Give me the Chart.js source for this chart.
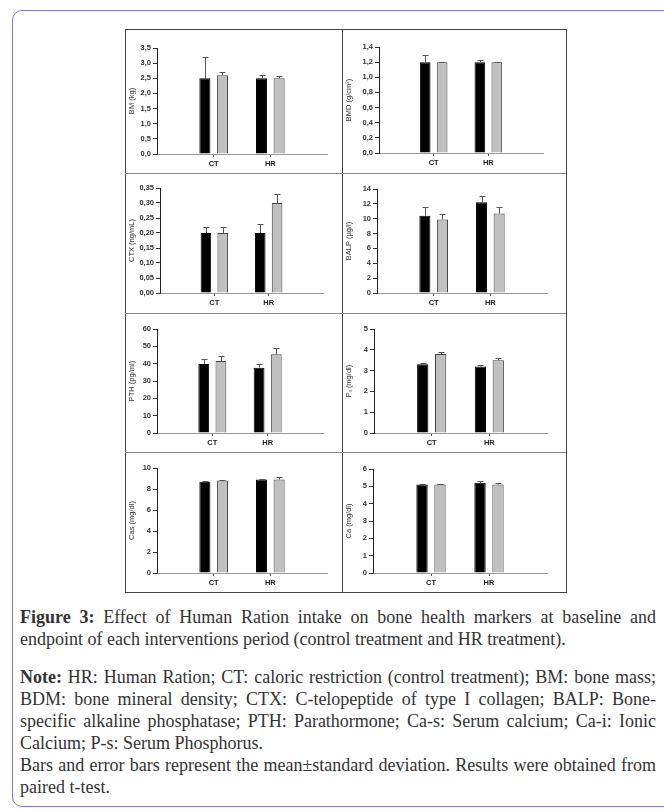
<!DOCTYPE html>
<html>
<head>
<meta charset="utf-8">
<script src="https://cdn.jsdelivr.net/npm/chart.js@4.4.1/dist/chart.umd.min.js"></script>
<style>
  body { margin: 0; width: 664px; height: 811px; background: #fff; position: relative; overflow: hidden; }
  .frame { position: absolute; left: 12px; top: 10px; width: 700px; height: 797px; border: 1.5px solid #8080bb; border-radius: 10px; box-sizing: border-box; }
  .box { position: absolute; left: 125px; top: 29px; width: 442px; height: 564px; border: 1px solid #444; box-sizing: border-box; pointer-events: none; }
  .vline { position: absolute; left: 342px; top: 29px; width: 1px; height: 563px; background: #444; }
  .hline { position: absolute; left: 125px; width: 441px; height: 1px; background: #888; }
  canvas { position: absolute; }
  .caption { position: absolute; left: 20px; top: 606px; width: 636px; font-family: "Liberation Serif", "Times New Roman", serif; font-size: 18px; line-height: 22px; color: #333; text-align: justify; }
  .caption p { margin: 0; }
  .caption p.note { margin-top: 16px; }
</style>
</head>
<body>
<div class="frame"></div>

<canvas id="bm"></canvas>
<canvas id="bmd"></canvas>
<canvas id="ctx"></canvas>
<canvas id="balp"></canvas>
<canvas id="pth"></canvas>
<canvas id="ps"></canvas>
<canvas id="cas"></canvas>
<canvas id="ca"></canvas>

<div class="box"></div>
<div class="vline"></div>
<div class="hline" style="top:173px"></div>
<div class="hline" style="top:313px"></div>
<div class="hline" style="top:452px"></div>

<div class="caption">
  <p><b>Figure 3:</b> Effect of Human Ration intake on bone health markers at baseline and endpoint of each interventions period (control treatment and HR treatment).</p>
  <p class="note"><b>Note:</b> HR: Human Ration; CT: caloric restriction (control treatment); BM: bone mass; BDM: bone mineral density; CTX: C-telopeptide of type I collagen; BALP: Bone-specific alkaline phosphatase; PTH: Parathormone; Ca-s: Serum calcium; Ca-i: Ionic Calcium; P-s: Serum Phosphorus.</p>
  <p>Bars and error bars represent the mean±standard deviation. Results were obtained from paired t-test.</p>
</div>

<script>
// groups on the x axis
const groups = ["CT", "HR"];

// black bars = baseline, grey bars = endpoint ; sd = upper error bar
const bmBase = [2.5, 2.5];
const bmBaseSd = [0.7, 0.1];
const bmEnd = [2.6, 2.5];
const bmEndSd = [0.12, 0.07];
const bmTicks = ["0,0", "0,5", "1,0", "1,5", "2,0", "2,5", "3,0", "3,5"];

const bmdBase = [1.2, 1.2];
const bmdBaseSd = [0.1, 0.025];
const bmdEnd = [1.2, 1.2];
const bmdEndSd = [0.005, 0.005];
const bmdTicks = ["0,0", "0,2", "0,4", "0,6", "0,8", "1,0", "1,2", "1,4"];

const ctxBase = [0.2, 0.2];
const ctxBaseSd = [0.02, 0.03];
const ctxEnd = [0.2, 0.3];
const ctxEndSd = [0.02, 0.03];
const ctxTicks = ["0,00", "0,05", "0,10", "0,15", "0,20", "0,25", "0,30", "0,35"];

const balpBase = [10.4, 12.2];
const balpBaseSd = [1.2, 0.9];
const balpEnd = [9.9, 10.7];
const balpEndSd = [0.8, 0.9];
const balpTicks = ["0", "2", "4", "6", "8", "10", "12", "14"];

const pthBase = [39.8, 37.7];
const pthBaseSd = [3.0, 2.0];
const pthEnd = [41.6, 45.4];
const pthEndSd = [3.1, 3.5];
const pthTicks = ["0", "10", "20", "30", "40", "50", "60"];

const psBase = [3.3, 3.2];
const psBaseSd = [0.08, 0.09];
const psEnd = [3.8, 3.5];
const psEndSd = [0.09, 0.12];
const psTicks = ["0", "1", "2", "3", "4", "5"];

const casBase = [8.7, 8.9];
const casBaseSd = [0.08, 0.1];
const casEnd = [8.8, 8.9];
const casEndSd = [0.08, 0.27];
const casTicks = ["0", "2", "4", "6", "8", "10"];

const caBase = [5.1, 5.2];
const caBaseSd = [0.05, 0.08];
const caEnd = [5.1, 5.1];
const caEndSd = [0.05, 0.12];
const caTicks = ["0", "1", "2", "3", "4", "5", "6"];

// panel frames on the page (x,y,w,h) + where the axes sit
const layout = {
    bm:   { x: 125, y: 29,  w: 217, h: 144, ax: 157, top: 48,  zero: 154, end: 327 },
    bmd:  { x: 342, y: 29,  w: 224, h: 144, ax: 379, top: 47,  zero: 153, end: 543 },
    ctx:  { x: 125, y: 173, w: 217, h: 140, ax: 160, top: 188, zero: 293, end: 323 },
    balp: { x: 342, y: 173, w: 224, h: 140, ax: 377, top: 189, zero: 293, end: 547 },
    pth:  { x: 125, y: 313, w: 217, h: 139, ax: 157, top: 329, zero: 433, end: 323 },
    ps:   { x: 342, y: 313, w: 224, h: 139, ax: 374, top: 329, zero: 433, end: 547 },
    cas:  { x: 125, y: 452, w: 217, h: 140, ax: 157, top: 468, zero: 573, end: 327 },
    ca:   { x: 342, y: 452, w: 224, h: 140, ax: 373, top: 469, zero: 573, end: 547 },
};

const panels = [
    { id: "bm", title: "BM (kg)", ticks: bmTicks, base: bmBase, baseSd: bmBaseSd, end: bmEnd, endSd: bmEndSd },
    { id: "bmd", title: "BMD (g/cm²)", ticks: bmdTicks, base: bmdBase, baseSd: bmdBaseSd, end: bmdEnd, endSd: bmdEndSd },
    { id: "ctx", title: "CTX (ng/mL)", ticks: ctxTicks, base: ctxBase, baseSd: ctxBaseSd, end: ctxEnd, endSd: ctxEndSd },
    { id: "balp", title: "BALP (µg/l)", ticks: balpTicks, base: balpBase, baseSd: balpBaseSd, end: balpEnd, endSd: balpEndSd },
    { id: "pth", title: "PTH (pg/ml)", ticks: pthTicks, base: pthBase, baseSd: pthBaseSd, end: pthEnd, endSd: pthEndSd },
    { id: "ps", title: "Pₛ (mg/dl)", ticks: psTicks, base: psBase, baseSd: psBaseSd, end: psEnd, endSd: psEndSd },
    { id: "cas", title: "Cas (mg/dl)", ticks: casTicks, base: casBase, baseSd: casBaseSd, end: casEnd, endSd: casEndSd },
    { id: "ca", title: "Ca (mg/dl)", ticks: caTicks, base: caBase, baseSd: caBaseSd, end: caEnd, endSd: caEndSd },
];

// empty slots at both ends so CT / HR sit a third of the way in
const labels = ["", ...groups, ""];
const pad = (arr) => [null, ...arr, null];
const num = (s) => parseFloat(s.replace(",", "."));

// upward error bars with a small cap
const errorBars = {
    id: "errorBars",
    afterDatasetsDraw(chart) {
        const c = chart.ctx;
        const y = chart.scales.y;
        chart.data.datasets.forEach((ds, di) => {
            chart.getDatasetMeta(di).data.forEach((bar, i) => {
                const v = ds.data[i], e = ds.sd[i];
                if (v == null || e == null) return;
                const x = Math.round(bar.x) + 0.5;
                const y0 = y.getPixelForValue(v);
                const y1 = Math.round(y.getPixelForValue(v + e)) + 0.5;
                c.save();
                c.strokeStyle = "#555";
                c.lineWidth = 1;
                c.beginPath();
                c.moveTo(x, y0);
                c.lineTo(x, y1);
                c.moveTo(x - 3, y1);
                c.lineTo(x + 3, y1);
                c.stroke();
                c.restore();
            });
        });
    },
};

const tickFont = { family: "'Liberation Sans', Arial, sans-serif", size: 7.5, weight: "bold" };

panels.forEach((p) => {
    const L = layout[p.id];
    const cv = document.getElementById(p.id);
    cv.width = L.w;
    cv.height = L.h;
    cv.style.left = L.x + "px";
    cv.style.top = L.y + "px";
    cv.style.width = L.w + "px";
    cv.style.height = L.h + "px";

    const tickVals = p.ticks.map(num);

    new Chart(cv, {
        type: "bar",
        data: {
            labels: labels,
            datasets: [
                {
                    label: "Baseline",
                    data: pad(p.base),
                    sd: pad(p.baseSd),
                    backgroundColor: "#000",
                    borderColor: "#000",
                    borderWidth: 1,
                },
                {
                    label: "Endpoint",
                    data: pad(p.end),
                    sd: pad(p.endSd),
                    backgroundColor: "#c0c0c0",
                    borderColor: "#444",
                    borderWidth: 1,
                },
            ],
        },
        options: {
            responsive: false,
            animation: false,
            devicePixelRatio: 1,
            categoryPercentage: 0.62,
            barPercentage: 0.63,
            layout: { padding: { top: L.top - L.y, right: L.x + L.w - L.end, left: 0, bottom: 0 } },
            plugins: { legend: { display: false }, tooltip: { enabled: false } },
            scales: {
                x: {
                    offset: false,
                    grid: {
                        offset: false,
                        drawOnChartArea: false,
                        tickLength: 3,
                        color: (c) => (c.index === 1 || c.index === 2 ? "#555" : "rgba(0,0,0,0)"),
                    },
                    border: { color: "#999", width: 1 },
                    ticks: { font: tickFont, color: "#222", padding: 2, maxRotation: 0, autoSkip: false },
                    afterFit: (s) => { s.height = L.y + L.h - L.zero; },
                },
                y: {
                    min: 0,
                    max: tickVals[tickVals.length - 1],
                    afterBuildTicks: (s) => { s.ticks = tickVals.map((v) => ({ value: v })); },
                    grid: { drawOnChartArea: false, tickLength: 4, color: "#333" },
                    border: { color: "#222", width: 1 },
                    ticks: { font: tickFont, color: "#333", padding: 2, callback: (v, i) => p.ticks[i] },
                    title: { display: true, text: p.title, font: { family: "'Liberation Sans', Arial, sans-serif", size: 7.5 }, color: "#333", padding: { top: 2, bottom: 0 } },
                    afterFit: (s) => { s.width = L.ax - L.x; },
                },
            },
        },
        plugins: [errorBars],
    });
});
</script>
</body>
</html>
